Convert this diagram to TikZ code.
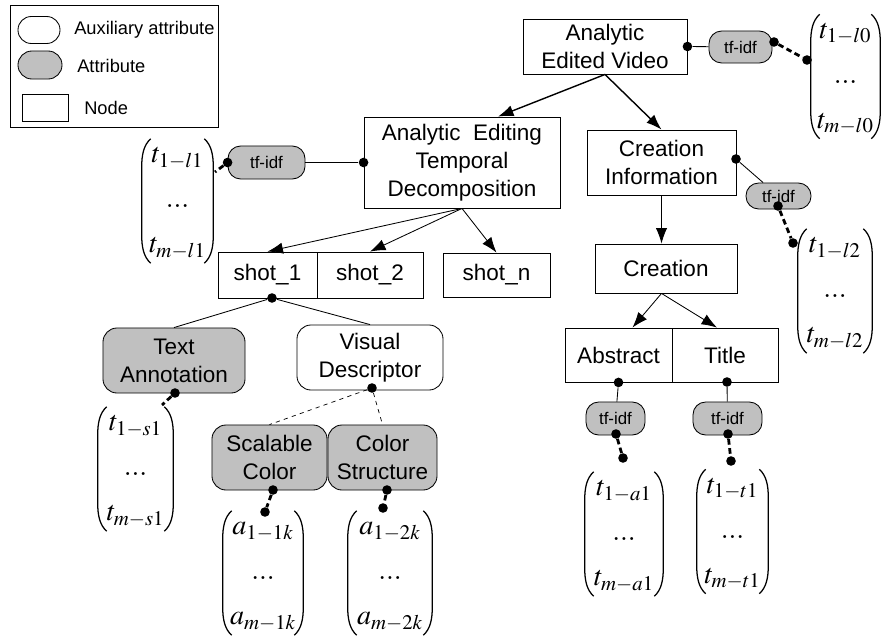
\documentclass[tikz,border=0pt]{standalone}
\usepackage{mathptmx}
\usepackage[no-math]{fontspec}
\setmainfont{Liberation Sans}
\usetikzlibrary{arrows.meta,calc}

\definecolor{attrgray}{RGB}{192,192,192}
\newcommand{\colvec}[2]{$\begin{array}{@{}c@{}}#1\\[8pt]...\\[8pt]#2\end{array}$}
\newcommand{\parens}[1]{%
  \draw[parenline] ($(#1.north west)+(9,0)$) .. controls ($(#1.north west)+(2,6)$) and ($(#1.north west)+(0,16)$) .. ($(#1.north west)+(0,28)$)
    -- ($(#1.south west)+(0,-28)$) .. controls ($(#1.south west)+(0,-16)$) and ($(#1.south west)+(2,-6)$) .. ($(#1.south west)+(9,0)$);
  \draw[parenline] ($(#1.north east)+(-9,0)$) .. controls ($(#1.north east)+(-2,6)$) and ($(#1.north east)+(0,16)$) .. ($(#1.north east)+(0,28)$)
    -- ($(#1.south east)+(0,-28)$) .. controls ($(#1.south east)+(0,-16)$) and ($(#1.south east)+(-2,-6)$) .. ($(#1.south east)+(-9,0)$);
}

\tikzset{
  nodebox/.style={draw,line width=0.6pt,align=center,inner sep=0pt,font=\fontsize{16}{20}\selectfont},
  attr/.style={nodebox,rounded corners=10pt,fill=attrgray},
  aux/.style={nodebox,rounded corners=10pt,fill=white},
  tfidf/.style={draw,line width=0.6pt,fill=attrgray,rounded corners=9pt,inner sep=0pt,font=\fontsize{12}{14}\selectfont},
  legtext/.style={anchor=west,inner sep=0pt,font=\fontsize{13}{15}\selectfont},
  vec/.style={inner sep=0pt,minimum height=3.05cm,font=\fontsize{20}{24}\selectfont},
  parenline/.style={line width=0.9pt},
  dotpt/.style={circle,fill=black,inner sep=0pt,minimum size=0.24cm},
  tie/.style={line width=0.6pt},
  link/.style={line width=2pt,dash pattern=on 4pt off 2.5pt},
  dashlink/.style={line width=0.5pt,dashed},
  arr/.style={-{Latex[length=11pt,width=8pt]},line width=0.6pt},
  mainarr/.style={arr,line width=1pt}
}

\begin{document}
\begin{tikzpicture}[x=0.025cm,y=-0.025cm]
  \useasboundingbox (0,0) rectangle (881,637);
  % legend
  \draw[line width=0.6pt] (10,5) rectangle (218,127);
  \node[aux,minimum width=1.05cm,minimum height=0.675cm,rounded corners=9.5pt] (legaux) at (39,30) {};
  \node[legtext] (legauxt) at (74,30) {Auxiliary attribute};
  \node[attr,minimum width=1.1cm,minimum height=0.7cm,rounded corners=9.9pt] (legattr) at (40,65) {};
  \node[legtext] (legattrt) at (77,66) {Attribute};
  \node[nodebox,minimum width=1.15cm,minimum height=0.675cm] (legnode) at (45,107.5) {};
  \node[legtext] (legnodet) at (84,108) {Node};

  % boxes
  \node[nodebox,minimum width=4.1cm,minimum height=1.375cm] (aev) at (605,46.5) {Analytic\\Edited Video};
  \node[nodebox,minimum width=4.9cm,minimum height=2.275cm] (aetd) at (462,162.5) {Analytic\ \ Editing\\Temporal\\Decomposition};
  \node[nodebox,minimum width=3.725cm,minimum height=1.625cm] (ci) at (661.5,162.5) {Creation\\Information};
  \node[nodebox,minimum width=3.55cm,minimum height=1.225cm] (cre) at (666,268.5) {Creation};
  \node[nodebox,minimum width=2.675cm,minimum height=1.35cm] (abs) at (618.5,355) {Abstract};
  \node[nodebox,minimum width=2.65cm,minimum height=1.35cm] (tit) at (725,355) {Title};
  \node[nodebox,minimum width=2.475cm,minimum height=1.15cm] (shot1) at (267.5,275) {shot\_1};
  \node[nodebox,minimum width=2.65cm,minimum height=1.15cm] (shot2) at (370,275) {shot\_2};
  \node[nodebox,minimum width=2.675cm,minimum height=1.1cm] (shotn) at (496.5,275) {shot\_n};
  \node[attr,minimum width=3.55cm,minimum height=1.625cm] (ta) at (174,360.5) {Text\\Annotation};
  \node[aux,minimum width=3.65cm,minimum height=1.625cm] (vd) at (370,357.5) {Visual\\Descriptor};
  \node[attr,minimum width=2.875cm,minimum height=1.625cm] (sc) at (269.5,457.5) {Scalable\\Color};
  \node[attr,minimum width=2.725cm,minimum height=1.625cm] (cs) at (382.5,457.5) {Color\\Structure};

  % tf-idf pills
  \node[tfidf,minimum width=1.575cm,minimum height=0.8cm] (tf0) at (740.5,47) {tf-idf};
  \node[tfidf,minimum width=1.925cm,minimum height=0.825cm] (tf1) at (266.5,162.5) {tf-idf};
  \node[tfidf,minimum width=1.625cm,minimum height=0.65cm] (tf2) at (778.5,196) {tf-idf};
  \node[tfidf,minimum width=1.475cm,minimum height=0.825cm] (tfa) at (615.5,418.5) {tf-idf};
  \node[tfidf,minimum width=1.725cm,minimum height=0.825cm] (tft) at (727.5,418.5) {tf-idf};

  % vectors
  \node[vec,minimum width=1.725cm] (vl0) at (845.5,76.5) {\colvec{t_{1-l0}}{t_{m-l0}}};
  \node[vec,minimum width=1.775cm] (vl1) at (177.5,201) {\colvec{t_{1-l1}}{t_{m-l1}}};
  \node[vec,minimum width=1.85cm] (vl2) at (835,291) {\colvec{t_{1-l2}}{t_{m-l2}}};
  \node[vec,minimum width=1.875cm] (vs1) at (135.5,469) {\colvec{t_{1-s1}}{t_{m-s1}}};
  \node[vec,minimum width=2cm] (v1k) at (263,573) {\colvec{a_{1-1k}}{a_{m-1k}}};
  \node[vec,minimum width=2.1cm] (v2k) at (390,573) {\colvec{a_{1-2k}}{a_{m-2k}}};
  \node[vec,minimum width=1.95cm] (va1) at (624,534) {\colvec{t_{1-a1}}{t_{m-a1}}};
  \node[vec,minimum width=1.775cm] (vt1) at (732.5,531.5) {\colvec{t_{1-t1}}{t_{m-t1}}};
  \foreach \v in {vl0,vl1,vl2,vs1,v1k,v2k,va1,vt1} {\parens{\v}}

  % arrows
  \draw[mainarr] (aev.south) -- ($(aetd.north)+(36,0)$);
  \draw[mainarr] (aev.south) -- (ci.north);
  \draw[arr] (aetd.south) -- (shot1.north);
  \draw[arr] (aetd.south) -- (shot2.north);
  \draw[arr] (aetd.south) -- (shotn.north);
  \draw[arr] (ci.south) -- (ci.south |- cre.north);
  \coordinate (cres) at (ci.south |- cre.south);
  \draw[arr] (cres) -- ($(abs.north)+(14,0)$);
  \draw[arr] (cres) -- ($(tit.north)+(-8,0)$);

  % attribute links
  \node[dotpt] (daev) at (aev.east) {};
  \node[dotpt] (dtf0) at (774,42) {};
  \node[dotpt] (dvl0) at (807,60) {};
  \draw[tie] (daev) -- (tf0);
  \draw[link] (dtf0) -- (dvl0);

  \node[dotpt] (daetd) at (aetd.west) {};
  \node[dotpt] (dtf1) at (tf1.west) {};
  \coordinate (cvl1) at (215,172);
  \draw[tie] (daetd) -- (tf1);
  \draw[link] (dtf1) -- (cvl1);

  \node[dotpt] (dci) at (736,159) {};
  \node[dotpt] (dtf2) at (778,206) {};
  \node[dotpt] (dvl2) at (793,243) {};
  \draw[tie] (dci) -- (tf2);
  \draw[link] (dtf2) -- (dvl2);

  \node[dotpt] (dabs) at (abs.south) {};
  \node[dotpt] (dtfa) at (616,434) {};
  \node[dotpt] (dva1) at (623,458) {};
  \draw[tie] (dabs) -- (tfa);
  \draw[link] (dtfa) -- (dva1);

  \node[dotpt] (dtit) at (727,382) {};
  \node[dotpt] (dtft) at (728,434) {};
  \node[dotpt] (dvt1) at (731,461) {};
  \draw[tie] (dtit) -- (tft);
  \draw[link] (dtft) -- (dvt1);

  \node[dotpt] (dshot) at (272,298) {};
  \draw[tie] (dshot) -- (ta.north);
  \draw[tie] (dshot) -- (vd.north);

  \node[dotpt] (dta) at (175,393) {};
  \coordinate (cvs1) at (162,405);
  \draw[link] (dta) -- (cvs1);

  \node[dotpt] (dvd) at (372,388) {};
  \draw[dashlink] (dvd) -- (sc.north);
  \draw[dashlink] (dvd) -- (cs.north);

  \node[dotpt] (dsc) at (273,490) {};
  \node[dotpt] (dv1k) at (265,512) {};
  \draw[link] (dsc) -- (dv1k);
  \node[dotpt] (dcs) at (387,490) {};
  \node[dotpt] (dv2k) at (383,508) {};
  \draw[link] (dcs) -- (dv2k);
\end{tikzpicture}
\end{document}
